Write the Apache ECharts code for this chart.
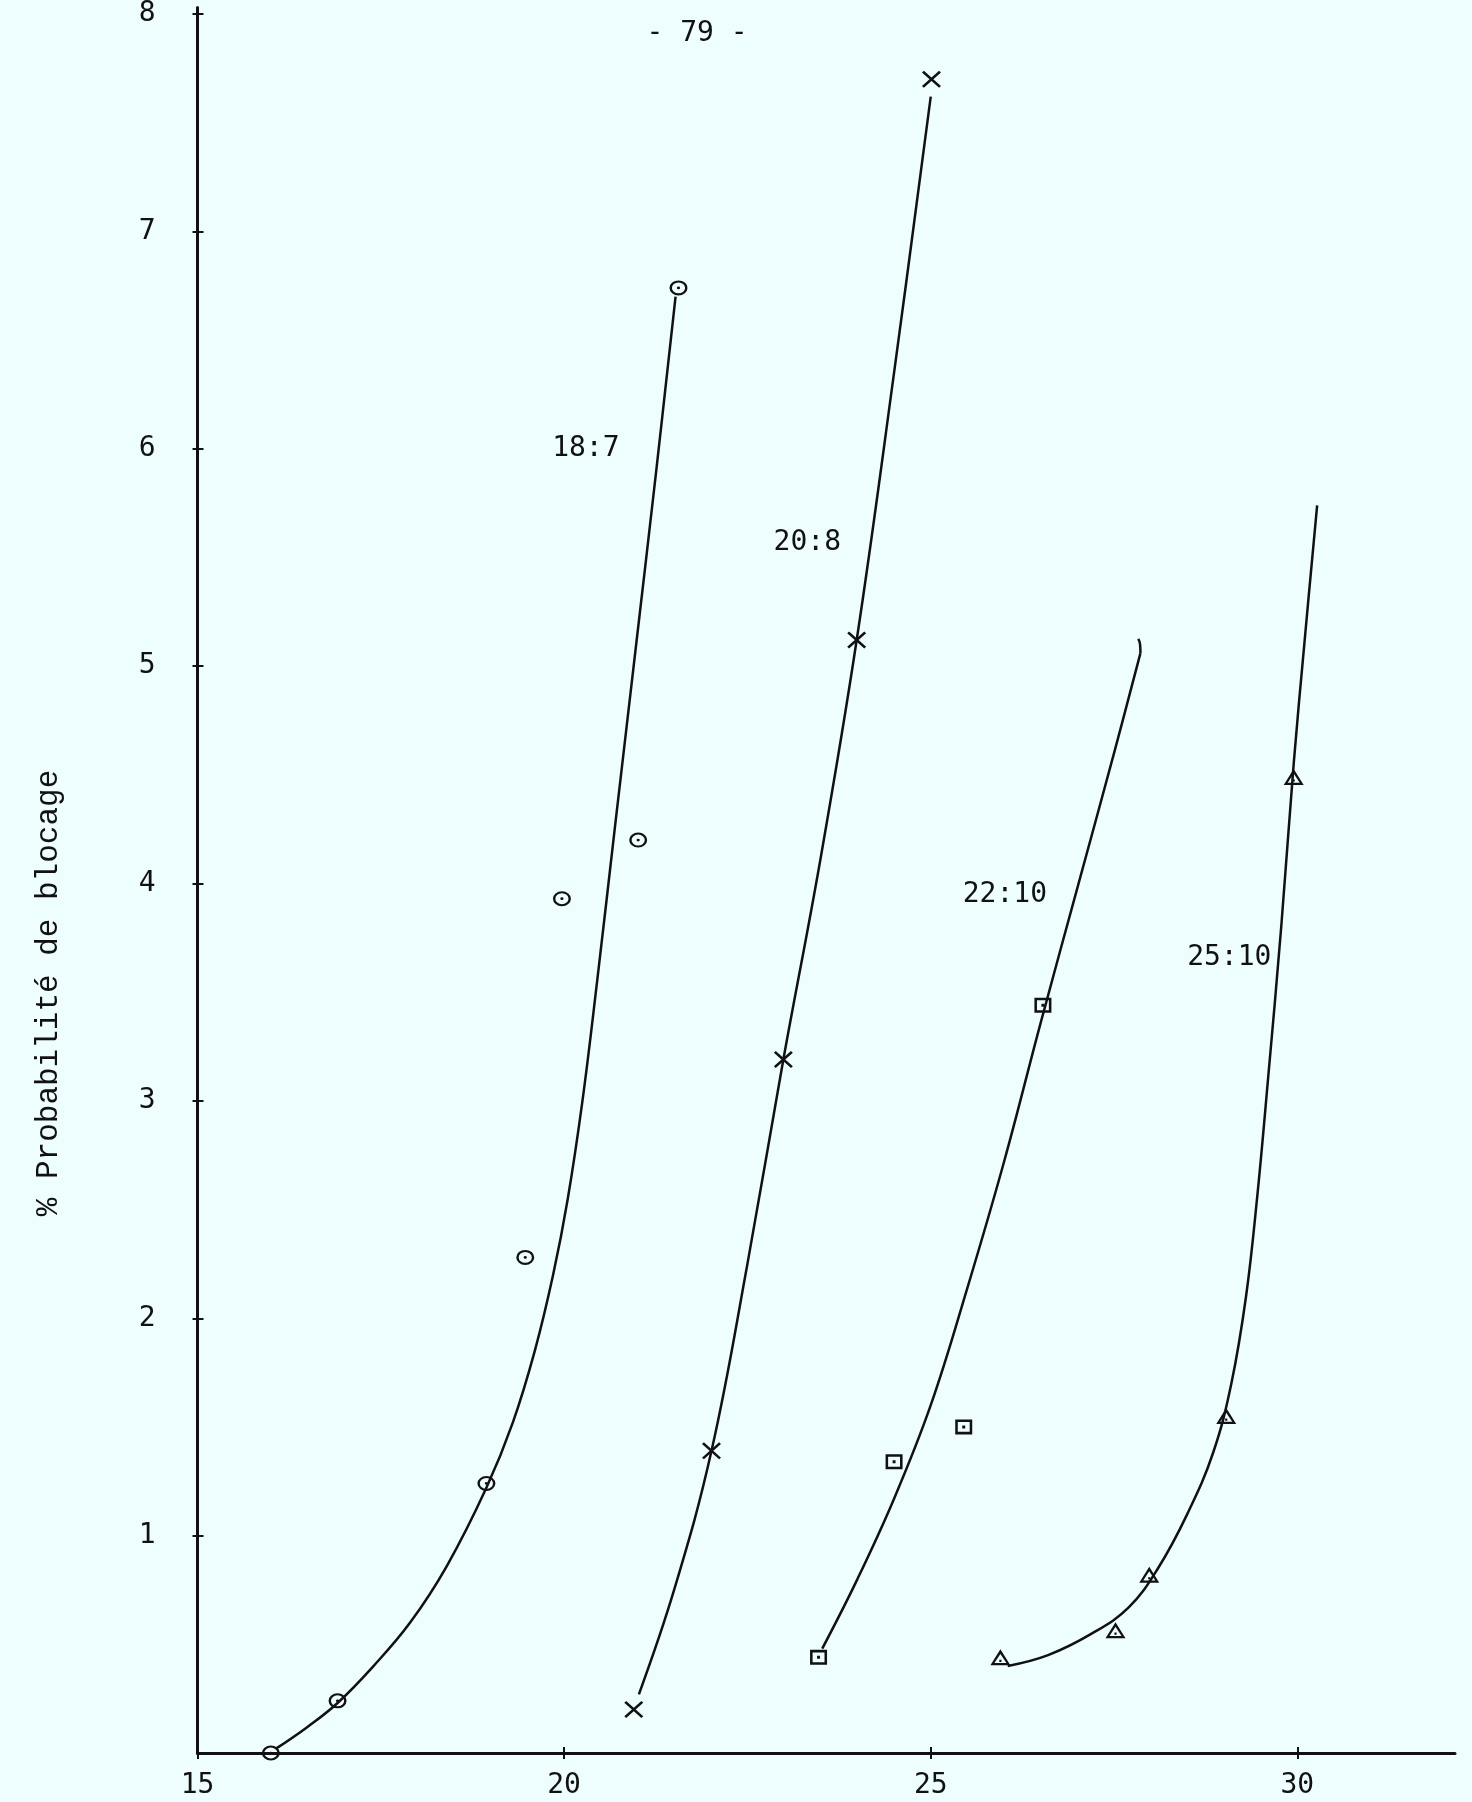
<!DOCTYPE html>
<html>
<head>
<meta charset="utf-8">
<script src="https://cdn.jsdelivr.net/npm/echarts@6/dist/echarts.min.js"></script>
<style>
html,body{margin:0;padding:0;background:#eefefe;}
#chart{width:1472px;height:1802px;}
</style>
</head>
<body>
<div id="chart"></div>
<script>
// ---- tick labels ----
const xTicks = [15, 20, 25, 30];
const yTicks = [1, 2, 3, 4, 5, 6, 7, 8];

// ---- measured points (markers) ----
const circX = [16.0, 16.91, 18.94, 19.47, 19.97, 21.01, 21.56];
const circY = [0.0, 0.24, 1.24, 2.28, 3.93, 4.20, 6.74];
const crossX = [20.95, 22.01, 22.99, 23.99, 25.01];
const crossY = [0.20, 1.39, 3.19, 5.12, 7.70];
const sqX = [23.47, 24.50, 25.45, 26.53];
const sqY = [0.44, 1.34, 1.50, 3.44];
const triX = [25.95, 27.52, 27.98, 29.03, 29.95];
const triY = [0.44, 0.565, 0.82, 1.55, 4.49];

// ---- hand-drawn fitted curves ----
const curve18x7X = [16.07, 16.5, 16.91, 17.4, 17.9, 18.4, 18.94, 19.3, 19.6, 19.85, 20.05, 20.25, 20.45, 20.7, 21.0, 21.25, 21.52];
const curve18x7Y = [0.02, 0.12, 0.23, 0.40, 0.60, 0.86, 1.22, 1.52, 1.85, 2.20, 2.55, 3.00, 3.55, 4.28, 5.15, 5.88, 6.70];
const curve20x8X = [21.02, 21.5, 22.01, 22.5, 22.99, 23.5, 23.99, 24.5, 25.0];
const curve20x8Y = [0.27, 0.75, 1.39, 2.25, 3.19, 4.12, 5.12, 6.35, 7.62];
const curve22x10X = [23.52, 24.0, 24.5, 25.0, 25.5, 26.0, 26.5, 27.0, 27.5, 27.86];
const curve22x10Y = [0.48, 0.80, 1.17, 1.60, 2.14, 2.72, 3.36, 3.98, 4.60, 5.06];
const hook22x10X = [27.86, 27.855, 27.83];
const hook22x10Y = [5.06, 5.10, 5.125];
const curve25x10X = [26.05, 26.6, 27.2, 27.7, 28.1, 28.5, 28.85, 29.1, 29.3, 29.45, 29.6, 29.78, 29.95, 30.1, 30.27];
const curve25x10Y = [0.40, 0.45, 0.55, 0.67, 0.85, 1.10, 1.38, 1.70, 2.10, 2.55, 3.10, 3.80, 4.55, 5.12, 5.74];

// ---- curve labels ----
const curveNames = ['18:7', '20:8', '22:10', '25:10'];
const curveLabelX = [19.83, 22.85, 25.43, 28.49];
const curveLabelY = [6.0, 5.57, 3.95, 3.66];

const pageNumber = '- 79 -';
const yTitle = '% Probabilité de blocage';

const zip = (a, b) => a.map((v, i) => [v, b[i]]);

const ink = '#111111';
const paper = '#eefefe';
const tickFont = 'DejaVu Sans Mono';
const typeFont = 'Liberation Mono';

const ringSym = 'path://M0,-10A10,10,0,1,1,0,10A10,10,0,1,1,0,-10ZM0,-7.3A7.3,7.3,0,1,0,0,7.3A7.3,7.3,0,1,0,0,-7.3ZM0,-1.8A1.8,1.8,0,1,1,0,1.8A1.8,1.8,0,1,1,0,-1.8Z';
const crossSym = 'path://M-10,-8L-8,-10L10,8L8,10ZM8,-10L10,-8L-8,10L-10,8Z';
const squareSym = 'path://M-8,-7L8,-7L8,7L-8,7ZM-5.6,-4.6L-5.6,4.6L5.6,4.6L5.6,-4.6ZM-1.4,-1.4L1.4,-1.4L1.4,1.4L-1.4,1.4Z';
const triSym = 'path://M0,-9L10,7L-10,7ZM0,-4.4L-6.0,4.7L6.0,4.7ZM-1.1,1.4L1.1,1.4L1.1,3.6L-1.1,3.6Z';

const chart = echarts.init(document.getElementById('chart'), null, {renderer: 'canvas'});

function curveSeries(xs, ys, sm) {
  return {
    type: 'line', data: zip(xs, ys), symbol: 'none', smooth: sm,
    lineStyle: {color: ink, width: 2.5}, z: 2, silent: true
  };
}
function markSeries(xs, ys, sym, size) {
  return {
    type: 'scatter', data: zip(xs, ys), symbol: sym, symbolSize: size,
    itemStyle: {color: ink, opacity: 1}, z: 3, silent: true
  };
}

const option = {
  backgroundColor: paper,
  animation: false,
  grid: {left: 197.5, right: 17, top: 6, bottom: 49, containLabel: false},
  xAxis: [{
    type: 'value', min: 15, max: 32.15, interval: 5,
    axisLine: {show: true, lineStyle: {color: ink, width: 3}},
    axisTick: {show: true, customValues: xTicks, length: 6, lineStyle: {color: ink, width: 2}},
    axisLabel: {customValues: xTicks, margin: 19, fontFamily: tickFont, fontSize: 28, color: ink},
    splitLine: {show: false}
  }, {
    type: 'value', min: 15, max: 32.15, interval: 5, position: 'bottom',
    axisLine: {show: false},
    axisTick: {show: true, inside: true, customValues: xTicks, length: 6, lineStyle: {color: ink, width: 2}},
    axisLabel: {show: false}, splitLine: {show: false}
  }],
  yAxis: [{
    type: 'value', min: 0, max: 8.03, interval: 1,
    axisLine: {show: true, lineStyle: {color: ink, width: 3}},
    axisTick: {show: true, customValues: yTicks, length: 5, lineStyle: {color: ink, width: 2}},
    axisLabel: {customValues: yTicks, margin: 42, fontFamily: tickFont, fontSize: 28, color: ink},
    splitLine: {show: false}
  }, {
    type: 'value', min: 0, max: 8.03, interval: 1, position: 'left',
    axisLine: {show: false},
    axisTick: {show: true, inside: true, customValues: yTicks, length: 6, lineStyle: {color: ink, width: 2}},
    axisLabel: {show: false}, splitLine: {show: false}
  }],
  series: [
    curveSeries(curve18x7X, curve18x7Y, 0.4),
    curveSeries(curve20x8X, curve20x8Y, 0.4),
    curveSeries(curve22x10X, curve22x10Y, 0.4),
    curveSeries(hook22x10X, hook22x10Y, 0.5),
    curveSeries(curve25x10X, curve25x10Y, 0.4),
    markSeries(circX, circY, ringSym, [18, 15]),
    markSeries(crossX, crossY, crossSym, [19, 17]),
    markSeries(sqX, sqY, squareSym, [17, 15]),
    markSeries(triX, triY, triSym, [20, 16]),
    {
      type: 'scatter', symbol: 'rect', symbolSize: 1, itemStyle: {color: paper, opacity: 1},
      data: curveNames.map((n, i) => ({name: n, value: [curveLabelX[i], curveLabelY[i]]})),
      label: {show: true, position: 'right', distance: 0, formatter: '{b}',
        fontFamily: tickFont, fontSize: 28, color: ink, opacity: 1},
      labelLayout: {hideOverlap: false}, silent: true, z: 4
    }
  ],
  graphic: [
    {type: 'text', x: 697, y: 34, style: {text: pageNumber, fontFamily: tickFont, fontSize: 28,
      fill: ink, textAlign: 'center', textVerticalAlign: 'middle'}},
    {type: 'text', x: 49, y: 993, rotation: Math.PI / 2, style: {text: yTitle, fontFamily: typeFont,
      fontSize: 31, fill: ink, textAlign: 'center', textVerticalAlign: 'middle'}}
  ]
};
chart.setOption(option);
</script>
</body>
</html>
